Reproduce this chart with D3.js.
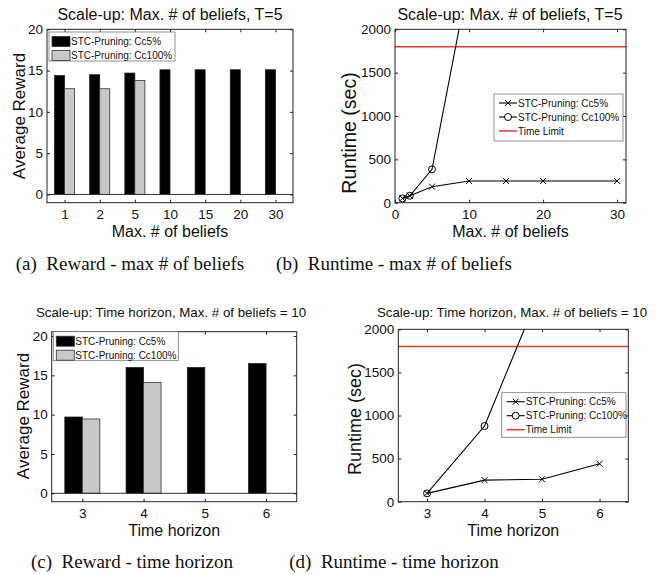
<!DOCTYPE html>
<html>
<head>
<meta charset="utf-8">
<script src="https://cdn.jsdelivr.net/npm/d3@7"></script>
<style>
body { margin: 0; background: #fff; }
svg text { font-family: "Liberation Sans", Arial, sans-serif; fill: #111; }
svg text.cap { font-family: "Liberation Serif", "Times New Roman", serif; white-space: pre; }
</style>
</head>
<body>
<svg id="chart" width="658" height="574"></svg>
<script>
// (a) reward vs max # of beliefs, T=5
var beliefCats = ["1", "2", "5", "10", "15", "20", "30"];
var beliefReward5 = [14.4, 14.5, 14.7, 15.1, 15.1, 15.1, 15.1];
var beliefReward100 = [12.8, 12.8, 13.8, 0, 0, 0, 0];
// (b) runtime vs max # of beliefs
var beliefX = [1, 2, 5, 10, 15, 20, 30];
var beliefTime5 = [50, 80, 185, 250, 250, 250, 250];
var beliefX100 = [1, 2, 5, 10];
var beliefTime100 = [50, 80, 385, 2600];
// (c) reward vs time horizon, max # of beliefs = 10
var horizonCats = ["3", "4", "5", "6"];
var horizonReward5 = [9.7, 16.0, 16.0, 16.5];
var horizonReward100 = [9.45, 14.1, 0, 0];
// (d) runtime vs time horizon
var horizonX = [3, 4, 5, 6];
var horizonTime5 = [97, 250, 260, 440];
var horizonX100 = [3, 4, 5];
var horizonTime100 = [97, 878, 2500];
var timeLimit = 1800;

var legendBar = ["STC-Pruning: Cc5%", "STC-Pruning: Cc100%"];
var legendLine = ["STC-Pruning: Cc5%", "STC-Pruning: Cc100%", "Time Limit"];
var rewardTicks = [0, 5, 10, 15, 20];
var runtimeTicks = [0, 500, 1000, 1500, 2000];

var svg = d3.select("#chart");
var edge = "#222";

function frame(o) {
	var g = svg.append("g");
	var x = d3.scaleLinear().domain(o.xDomain).range([o.left, o.right]);
	var y = d3.scaleLinear().domain(o.yDomain).range([o.bottom, o.top]);
	var fmt = o.xLabels ? function(d) { return o.xLabels[d - 1]; } : d3.format("d");
	o.x = x; o.y = y; o.g = g;
	o.plot = g.append("g");

	var axes = g.append("g").attr("class", "axes");
	axes.append("g").attr("transform", "translate(0," + o.bottom + ")")
		.call(d3.axisBottom(x).tickValues(o.xTicks).tickFormat(fmt).tickSizeInner(-3).tickSizeOuter(0).tickPadding(7));
	axes.append("g").attr("transform", "translate(0," + o.top + ")")
		.call(d3.axisTop(x).tickValues(o.xTicks).tickFormat("").tickSizeInner(-3).tickSizeOuter(0));
	axes.append("g").attr("transform", "translate(" + o.left + ",0)")
		.call(d3.axisLeft(y).tickValues(o.yTicks).tickFormat(d3.format("d")).tickSizeInner(-3).tickSizeOuter(0).tickPadding(4));
	axes.append("g").attr("transform", "translate(" + o.right + ",0)")
		.call(d3.axisRight(y).tickValues(o.yTicks).tickFormat("").tickSizeInner(-3).tickSizeOuter(0));
	axes.selectAll(".domain").remove();
	axes.selectAll(".tick line").attr("stroke", edge);
	axes.selectAll(".tick text").style("font-size", "13.5px");

	axes.append("rect")
		.attr("x", o.left).attr("y", o.top)
		.attr("width", o.right - o.left).attr("height", o.bottom - o.top)
		.attr("fill", "none").attr("stroke", edge).attr("stroke-width", 1);

	g.append("text").attr("x", o.titleX).attr("y", o.titleY)
		.attr("text-anchor", "middle").style("font-size", o.titleSize + "px").text(o.title);
	g.append("text").attr("x", (o.left + o.right) / 2).attr("y", o.xLabelY)
		.attr("text-anchor", "middle").style("font-size", "16px").text(o.xLabel);
	g.append("text").attr("transform", "translate(" + o.yLabelX + "," + o.yLabelY + ") rotate(-90)")
		.attr("text-anchor", "middle").style("font-size", o.yLabelSize + "px").text(o.yLabel);
	g.append("text").attr("class", "cap").attr("x", o.capX).attr("y", o.capY)
		.attr("text-anchor", "middle").style("font-size", "19px").text(o.caption);
	return o;
}

function barPanel(o, s5, s100) {
	frame(o);
	var x = o.x, y = o.y, bw = 2 / 7;
	var rows = s5.map(function(v, i) { return {i: i + 1, a: v, b: s100[i]}; });
	var grp = o.plot.selectAll(".grp").data(rows).enter().append("g");
	grp.append("rect")
		.attr("x", function(d) { return x(d.i - bw); })
		.attr("width", function(d) { return x(d.i) - x(d.i - bw); })
		.attr("y", function(d) { return y(d.a); })
		.attr("height", function(d) { return y(0) - y(d.a); })
		.attr("fill", "#000").attr("stroke", edge).attr("stroke-width", 0.8);
	grp.filter(function(d) { return d.b > 0; }).append("rect")
		.attr("x", function(d) { return x(d.i); })
		.attr("width", function(d) { return x(d.i + bw) - x(d.i); })
		.attr("y", function(d) { return y(d.b); })
		.attr("height", function(d) { return y(0) - y(d.b); })
		.attr("fill", "#c8c8c8").attr("stroke", "#333").attr("stroke-width", 0.8);
	o.plot.append("line")
		.attr("x1", o.left).attr("x2", o.right).attr("y1", y(0)).attr("y2", y(0))
		.attr("stroke", "#333").attr("stroke-width", 1);

	var lg = o.g.append("g");
	lg.append("rect").attr("x", o.leg[0]).attr("y", o.leg[1]).attr("width", o.leg[2]).attr("height", o.leg[3])
		.attr("fill", "#fff").attr("stroke", "#777").attr("stroke-width", 0.8);
	var fills = ["#000", "#c8c8c8"];
	legendBar.forEach(function(t, k) {
		var cy = o.leg[1] + 9.5 + k * 14;
		lg.append("rect").attr("x", o.leg[0] + 3).attr("y", cy - 5).attr("width", 18).attr("height", 10)
			.attr("fill", fills[k]).attr("stroke", "#333").attr("stroke-width", 0.8);
		lg.append("text").attr("x", o.leg[0] + 22).attr("y", cy + 3.6).style("font-size", "10px").text(t);
	});
}

function xMark(sel, x, y) {
	sel.append("path")
		.attr("d", function(d) {
			var px = x(d[0]), py = y(d[1]);
			return "M" + (px - 3) + "," + (py - 3) + "L" + (px + 3) + "," + (py + 3) +
				"M" + (px - 3) + "," + (py + 3) + "L" + (px + 3) + "," + (py - 3);
		})
		.attr("stroke", "#000").attr("stroke-width", 1);
}

function linePanel(o, xs5, t5, xs100, t100, clipId) {
	frame(o);
	var x = o.x, y = o.y;
	svg.append("clipPath").attr("id", clipId).append("rect")
		.attr("x", o.left).attr("y", o.top).attr("width", o.right - o.left).attr("height", o.bottom - o.top);
	var p = o.plot.attr("clip-path", "url(#" + clipId + ")");
	var line = d3.line().x(function(d) { return x(d[0]); }).y(function(d) { return y(d[1]); });
	var a = d3.zip(xs5, t5), b = d3.zip(xs100, t100);

	p.append("line").attr("x1", o.left).attr("x2", o.right)
		.attr("y1", y(timeLimit)).attr("y2", y(timeLimit))
		.attr("stroke", "#e03a30").attr("stroke-width", 1.5);
	p.append("path").datum(b).attr("d", line).attr("fill", "none").attr("stroke", "#000").attr("stroke-width", 1.1);
	p.append("path").datum(a).attr("d", line).attr("fill", "none").attr("stroke", "#000").attr("stroke-width", 1.1);
	p.selectAll(".c").data(b).enter().append("circle")
		.attr("cx", function(d) { return x(d[0]); }).attr("cy", function(d) { return y(d[1]); })
		.attr("r", 3.5).attr("fill", "none").attr("stroke", "#000").attr("stroke-width", 1);
	xMark(p.selectAll(".m").data(a).enter(), x, y);

	var lg = o.g.append("g");
	lg.append("rect").attr("x", o.leg[0]).attr("y", o.leg[1]).attr("width", o.leg[2]).attr("height", o.leg[3])
		.attr("fill", "#fff").attr("stroke", "#777").attr("stroke-width", 0.8);
	legendLine.forEach(function(t, k) {
		var cy = o.leg[1] + 9 + k * 14, x0 = o.leg[0] + 5, x1 = o.leg[0] + 23, xm = (x0 + x1) / 2;
		lg.append("line").attr("x1", x0).attr("x2", x1).attr("y1", cy).attr("y2", cy)
			.attr("stroke", k == 2 ? "#e03a30" : "#000").attr("stroke-width", k == 2 ? 1.5 : 1.1);
		if (k == 0) {
			lg.append("path").attr("d", "M" + (xm - 3) + "," + (cy - 3) + "L" + (xm + 3) + "," + (cy + 3) +
				"M" + (xm - 3) + "," + (cy + 3) + "L" + (xm + 3) + "," + (cy - 3)).attr("stroke", "#000");
		}
		if (k == 1) {
			lg.append("circle").attr("cx", xm).attr("cy", cy).attr("r", 3.5)
				.attr("fill", "#fff").attr("stroke", "#000");
		}
		lg.append("text").attr("x", x1 + 1).attr("y", cy + 3.6).style("font-size", "10px").text(t);
	});
}

barPanel({
	left: 47, right: 293, top: 29.3, bottom: 202.7,
	xDomain: [0.5, 7.5], xTicks: d3.range(1, 8), xLabels: beliefCats,
	yDomain: [-1, 20], yTicks: rewardTicks,
	title: "Scale-up: Max. # of beliefs, T=5", titleX: 170, titleY: 20, titleSize: 16,
	xLabel: "Max. # of beliefs", xLabelY: 237,
	yLabel: "Average Reward", yLabelX: 25, yLabelY: 116, yLabelSize: 17,
	caption: "(a)  Reward - max # of beliefs", capX: 130, capY: 270,
	leg: [49, 32, 126, 29]
}, beliefReward5, beliefReward100);

linePanel({
	left: 395, right: 626, top: 29.3, bottom: 202.7,
	xDomain: [0, 31.2], xTicks: [0, 10, 20, 30],
	yDomain: [0, 2000], yTicks: runtimeTicks,
	title: "Scale-up: Max. # of beliefs, T=5", titleX: 510, titleY: 20, titleSize: 16,
	xLabel: "Max. # of beliefs", xLabelY: 237,
	yLabel: "Runtime (sec)", yLabelX: 356, yLabelY: 133, yLabelSize: 19.5,
	caption: "(b)  Runtime - max # of beliefs", capX: 394, capY: 270,
	leg: [494, 94, 129, 47]
}, beliefX, beliefTime5, beliefX100, beliefTime100, "clipB");

barPanel({
	left: 51.7, right: 296.7, top: 331.7, bottom: 501.7,
	xDomain: [0.5, 4.5], xTicks: d3.range(1, 5), xLabels: horizonCats,
	yDomain: [-1.07, 20.55], yTicks: rewardTicks,
	title: "Scale-up: Time horizon, Max. # of beliefs = 10", titleX: 171, titleY: 317, titleSize: 13.3,
	xLabel: "Time horizon", xLabelY: 536,
	yLabel: "Average Reward", yLabelX: 29, yLabelY: 416, yLabelSize: 17,
	caption: "(c)  Reward - time horizon", capX: 132, capY: 568,
	leg: [53.3, 331.7, 125, 29]
}, horizonReward5, horizonReward100);

linePanel({
	left: 398.3, right: 628.3, top: 329.3, bottom: 501.7,
	xDomain: [2.5, 6.5], xTicks: horizonX,
	yDomain: [0, 2000], yTicks: runtimeTicks,
	title: "Scale-up: Time horizon, Max. # of beliefs = 10", titleX: 512, titleY: 317, titleSize: 13.3,
	xLabel: "Time horizon", xLabelY: 536,
	yLabel: "Runtime (sec)", yLabelX: 361, yLabelY: 419, yLabelSize: 18,
	caption: "(d)  Runtime - time horizon", capX: 394, capY: 568,
	leg: [501.7, 392.7, 124.3, 44.6]
}, horizonX, horizonTime5, horizonX100, horizonTime100, "clipD");
</script>
</body>
</html>
